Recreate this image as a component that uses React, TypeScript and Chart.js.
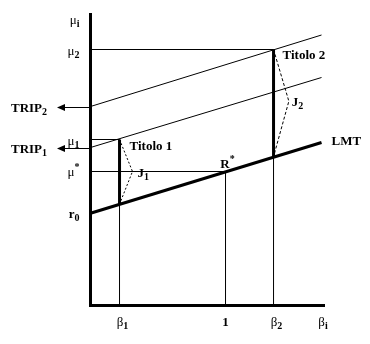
import React, { useEffect, useRef } from "react";
import { Chart, registerables } from "chart.js";
Chart.register(...registerables);

// ---- data (arbitrary units) ----
const betaMax = 1.733;
const muMax = 29.1;
const beta1 = 0.215;
const betaMarket = 1;
const beta2 = 1.3556;
const betaEnd = 1.711;
const r0 = 9.23;
const muStar = 13.4;
const mu1 = 16.6;
const mu2 = 25.6;
const lmtValues = [r0, 16.3]; // at beta 0 and betaEnd
const lmtAtBetas = [10.13, 14.88]; // at beta1, beta2
const trip1Values = [15.8, 22.8]; // at beta 0 and betaEnd
const trip2Values = [19.9, 27.05];
const j1Vertex = [0.311, 13.4];
const j2Vertex = [1.469, 20.43];

const yTickValues = [muMax, mu2, mu1, muStar, r0];
const yTickMain = ["\u03bc", "\u03bc", "\u03bc", "\u03bc", "r"];
const yTickSub = ["i", "2", "1", "", "0"];
const yTickSup = ["", "", "", "*", ""];
const xTickValues = [beta1, betaMarket, beta2, 1.70];
const xTickMain = ["\u03b2", "1", "\u03b2", "\u03b2"];
const xTickSub = ["1", "", "2", "i"];

const MAIN_FONT = 'bold 13px "Liberation Serif", "DejaVu Serif", serif';
const MU_FONT = '13px "Liberation Serif", "DejaVu Serif", serif';
const SUB_FONT = 'bold 10px "Liberation Serif", "DejaVu Serif", serif';

type Part = { t: string; font: string; dy: number };

function drawRich(ctx: CanvasRenderingContext2D, parts: Part[], x: number, y: number, align: "left" | "right" | "center") {
  ctx.save();
  ctx.textBaseline = "alphabetic";
  ctx.textAlign = "left";
  const widths = parts.map((p) => {
    ctx.font = p.font;
    return ctx.measureText(p.t).width;
  });
  const total = widths.reduce((a, b) => a + b, 0);
  let cx = align === "left" ? x : align === "right" ? x - total : x - total / 2;
  parts.forEach((p, i) => {
    ctx.font = p.font;
    ctx.fillStyle = "#000";
    ctx.fillText(p.t, cx, y + p.dy);
    cx += widths[i];
  });
  ctx.restore();
}

function label(main: string, sub: string, sup: string, mainFont = MAIN_FONT): Part[] {
  const parts: Part[] = [{ t: main, font: mainFont, dy: 0 }];
  if (sub) parts.push({ t: sub, font: SUB_FONT, dy: 3 });
  if (sup) parts.push({ t: sup, font: SUB_FONT, dy: -6 });
  return parts;
}

const annotPlugin = {
  id: "annot",
  afterDraw(chart: any) {
    const ctx: CanvasRenderingContext2D = chart.ctx;
    const xs = chart.scales.x;
    const ys = chart.scales.y;
    const area = chart.chartArea;
    const px = (v: number) => xs.getPixelForValue(v);
    const py = (v: number) => ys.getPixelForValue(v);

    // y tick labels
    yTickValues.forEach((v, i) => {
      const isMu = yTickMain[i] === "\u03bc";
      const dy = i === 0 ? 9 : i === 3 ? 4 : 5;
      drawRich(ctx, label(yTickMain[i], yTickSub[i], yTickSup[i], isMu ? MU_FONT : MAIN_FONT), area.left - 11, py(v) + dy, "right");
    });
    // x tick labels
    xTickValues.forEach((v, i) => {
      const isBeta = xTickMain[i] === "\u03b2";
      drawRich(ctx, label(xTickMain[i], xTickSub[i], "", isBeta ? MU_FONT : MAIN_FONT), px(v) + (xTickSub[i] ? 3 : 0), area.bottom + 20, "center");
    });

    // TRIP arrows
    const trips = [trip2Values[0], trip1Values[0]];
    const tripSub = ["2", "1"];
    trips.forEach((v, i) => {
      const y = Math.round(py(v)) + 0.5;
      ctx.save();
      ctx.strokeStyle = "#000";
      ctx.lineWidth = 1;
      ctx.beginPath();
      ctx.moveTo(area.left, y);
      ctx.lineTo(60, y);
      ctx.stroke();
      ctx.fillStyle = "#000";
      ctx.beginPath();
      ctx.moveTo(57, y);
      ctx.lineTo(65, y - 3.5);
      ctx.lineTo(65, y + 3.5);
      ctx.closePath();
      ctx.fill();
      ctx.restore();
      drawRich(ctx, label("TRIP", tripSub[i], ""), 11, y + 4, "left");
    });

    // annotations
    drawRich(ctx, [{ t: "Titolo 1", font: MAIN_FONT, dy: 0 }], px(beta1) + 10, py(mu1) + 10, "left");
    drawRich(ctx, [{ t: "Titolo 2", font: MAIN_FONT, dy: 0 }], px(beta2) + 9, py(mu2) + 9, "left");
    drawRich(ctx, [{ t: "LMT", font: MAIN_FONT, dy: 0 }], px(betaEnd) + 10, py(lmtValues[1]) + 2, "left");
    drawRich(ctx, label("R", "", "*"), px(betaMarket) + 2, py(muStar) - 4, "center");
    drawRich(ctx, label("J", "1", ""), px(j1Vertex[0]) + 5, py(j1Vertex[1]) + 5, "left");
    drawRich(ctx, label("J", "2", ""), px(j2Vertex[0]) + 3, py(j2Vertex[1]) + 5, "left");
  },
};

function line(points: number[][], width: number, dash: number[] = []) {
  return {
    data: points.map(([x, y]) => ({ x, y })),
    showLine: true,
    borderColor: "#000",
    backgroundColor: "#000",
    borderWidth: width,
    borderDash: dash,
    pointRadius: 0,
    fill: false,
    tension: 0,
  };
}

export default function App() {
  const ref = useRef<HTMLCanvasElement | null>(null);
  useEffect(() => {
    if (!ref.current) return;
    const datasets = [
      line([[0, mu2], [beta2, mu2]], 1),
      line([[0, mu1], [beta1, mu1]], 1),
      line([[0, muStar], [betaMarket, muStar]], 1),
      line([[0, trip2Values[0]], [betaEnd, trip2Values[1]]], 1),
      line([[0, trip1Values[0]], [betaEnd, trip1Values[1]]], 1),
      line([[beta1, 0], [beta1, lmtAtBetas[0]]], 1),
      line([[betaMarket, 0], [betaMarket, muStar]], 1),
      line([[beta2, 0], [beta2, lmtAtBetas[1]]], 1),
      line([[beta1, lmtAtBetas[0]], [beta1, mu1]], 3),
      line([[beta2, lmtAtBetas[1]], [beta2, mu2]], 3),
      line([[0, lmtValues[0]], [betaEnd, lmtValues[1]]], 3),
      line([[beta1, mu1], j1Vertex, [beta1, lmtAtBetas[0]]], 1, [2, 2]),
      line([[beta2, mu2], j2Vertex, [beta2, lmtAtBetas[1]]], 1, [3, 2]),
    ];
    const chart = new Chart(ref.current, {
      type: "scatter",
      data: { datasets: datasets as any },
      options: {
        responsive: false,
        animation: false,
        events: [],
        layout: { padding: { left: 90.5, top: 14.5, right: 45.5, bottom: 38.5 } },
        plugins: { legend: { display: false }, tooltip: { enabled: false } },
        scales: {
          x: {
            type: "linear",
            position: "bottom",
            min: 0,
            max: betaMax,
            grid: { display: false },
            ticks: { display: false },
            border: { display: true, width: 3, color: "#000" },
            afterFit: (s: any) => { s.height = 0; },
          },
          y: {
            type: "linear",
            position: "left",
            min: 0,
            max: muMax,
            grid: { display: false },
            ticks: { display: false },
            border: { display: true, width: 3, color: "#000" },
            afterFit: (s: any) => { s.width = 0; },
          },
        },
      },
      plugins: [annotPlugin],
    });
    return () => chart.destroy();
  }, []);
  return (
    <div style={{ position: "fixed", left: 0, top: 0, width: 370, height: 344, background: "#fff" }}>
      <canvas ref={ref} width={370} height={344} style={{ display: "block" }} />
    </div>
  );
}
